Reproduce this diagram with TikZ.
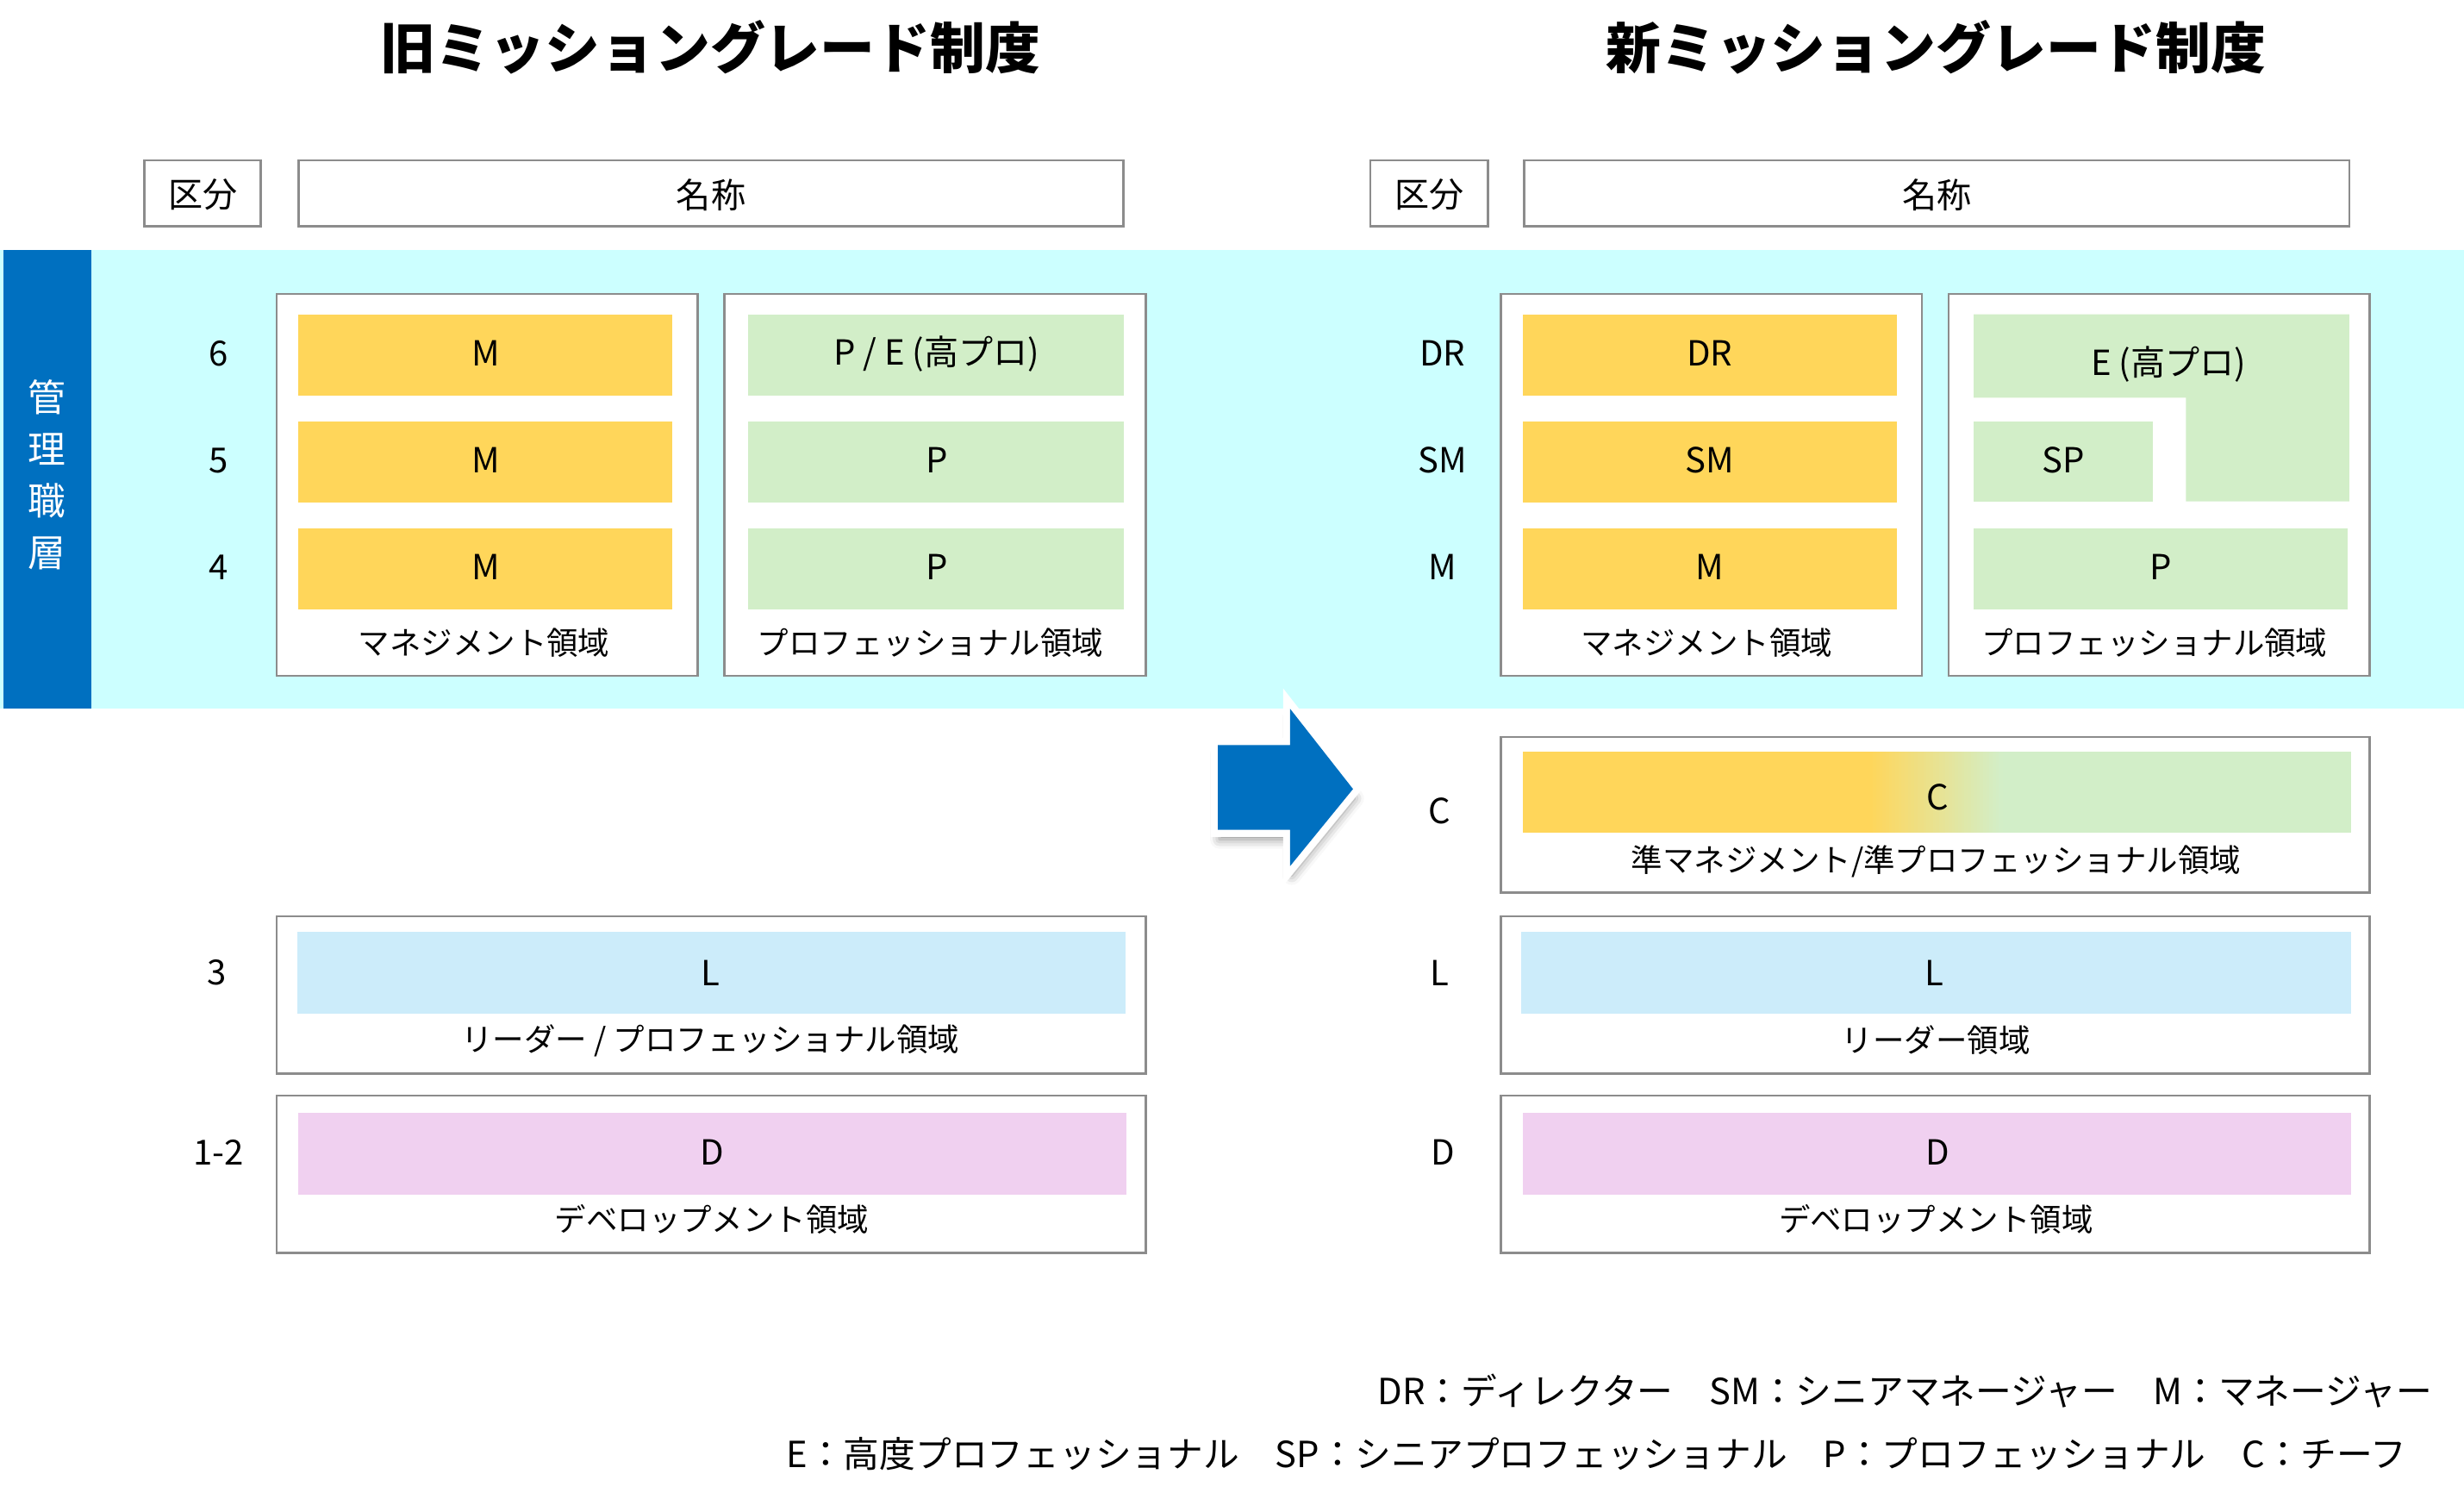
\documentclass[tikz,border=0pt]{standalone}
\usepackage{fontspec}
\setmainfont{Noto Sans CJK JP}
\usetikzlibrary{shadows.blur}
\definecolor{ylw}{RGB}{255,214,90}
\definecolor{grn}{RGB}{210,238,200}
\definecolor{lblue}{RGB}{204,236,250}
\definecolor{pnk}{RGB}{240,208,240}
\definecolor{band}{RGB}{204,255,255}
\definecolor{dblue}{RGB}{0,112,192}
\definecolor{bord}{RGB}{140,140,140}
\begin{document}
\begin{tikzpicture}[x=0.5pt,y=-0.5pt,
  boxx/.style={draw=bord,line width=0.7pt,fill=white},
  ttl/.style={font=\fontsize{17.5pt}{20pt}\selectfont\bfseries},
  hd/.style={font=\fontsize{11pt}{13pt}\selectfont,inner sep=0pt},
  bl/.style={font=\fontsize{11pt}{13pt}\selectfont,inner sep=0pt},
  al/.style={font=\fontsize{10pt}{12pt}\selectfont,inner sep=0pt},
  lg/.style={font=\fontsize{11.45pt}{13pt}\selectfont,inner sep=0pt}]
\useasboundingbox (0,0) rectangle (1568,953.7);
% titles
\node[ttl] (titleL) at (452,30) {旧ミッショングレード制度};
\node[ttl] (titleR) at (1232,30) {新ミッショングレード制度};
% headers
\draw[boxx] (92,102) rectangle (166,144);
\node[hd] (kbL) at (129,124) {区分};
\draw[boxx] (190,102) rectangle (715,144);
\node[hd] (mcL) at (452.5,124) {名称};
\draw[boxx] (872,102) rectangle (947,144);
\node[hd] (kbR) at (909.5,124) {区分};
\draw[boxx] (970,102) rectangle (1495,144);
\node[hd] (mcR) at (1232.5,124) {名称};
% band
\fill[band] (0,159) rectangle (1568,451);
\fill[dblue] (2,159) rectangle (58,451);
\node[font=\fontsize{12pt}{16.5pt}\selectfont,text=white,align=center,inner sep=0pt] (kanri) at (30,302) {管\\理\\職\\層};
% left grade labels
\node[bl] (gL6) at (139,225) {6};
\node[bl] (gL5) at (139,293) {5};
\node[bl] (gL4) at (139,361) {4};
\node[bl] (gL3) at (138,619) {3};
\node[bl] (gL12) at (139,733) {1-2};
% left management
\draw[boxx] (176,187) rectangle (444,430);
\fill[ylw] (190,200) rectangle (428,252);
\fill[ylw] (190,268) rectangle (428,320);
\fill[ylw] (190,336) rectangle (428,388);
\node[bl] (mL6) at (309,225) {M};
\node[bl] (mL5) at (309,293) {M};
\node[bl] (mL4) at (309,361) {M};
\node[al] (mgL) at (308,409) {マネジメント領域};
% left professional
\draw[boxx] (461,187) rectangle (729,430);
\fill[grn] (476,200) rectangle (715,252);
\fill[grn] (476,268) rectangle (715,320);
\fill[grn] (476,336) rectangle (715,388);
\node[bl] (pL6) at (596,225) {P / E (高プロ)};
\node[bl] (pL5) at (596,293) {P};
\node[bl] (pL4) at (596,361) {P};
\node[al] (prL) at (592,409) {プロフェッショナル領域};
% left L
\draw[boxx] (176,583) rectangle (729,683);
\fill[lblue] (189,593) rectangle (716,645);
\node[bl] (lL) at (452,619) {L};
\node[al] (ldL) at (452,662) {リーダー / プロフェッショナル領域};
% left D
\draw[boxx] (176,697) rectangle (729,797);
\fill[pnk] (190,708) rectangle (717,760);
\node[bl] (dL) at (453,733) {D};
\node[al] (dvL) at (453,776) {デベロップメント領域};
% arrow
\path[draw=white,fill=white,line width=4.5pt,line join=miter,
  blur shadow={shadow xshift=0.5pt,shadow yshift=-3pt,shadow blur radius=3pt,shadow opacity=45}]
  (775,474) -- (821,474) -- (821,451) -- (861,502) -- (821,551) -- (821,528) -- (775,528) -- cycle;
\fill[dblue] (775,474) -- (821,474) -- (821,451) -- (861,502) -- (821,551) -- (821,528) -- (775,528) -- cycle;
% right grade labels
\node[bl] (gR1) at (918,225) {DR};
\node[bl] (gR2) at (918,293) {SM};
\node[bl] (gR3) at (918,361) {M};
\node[bl] (gR4) at (916,516) {C};
\node[bl] (gR5) at (916,619) {L};
\node[bl] (gR6) at (918,733) {D};
% right management
\draw[boxx] (955,187) rectangle (1223,430);
\fill[ylw] (969,200) rectangle (1207,252);
\fill[ylw] (969,268) rectangle (1207,320);
\fill[ylw] (969,336) rectangle (1207,388);
\node[bl] (mR1) at (1088,225) {DR};
\node[bl] (mR2) at (1088,293) {SM};
\node[bl] (mR3) at (1088,361) {M};
\node[al] (mgR) at (1086,409) {マネジメント領域};
% right professional
\draw[boxx] (1240,187) rectangle (1508,430);
\fill[grn] (1256,200) -- (1495,200) -- (1495,319) -- (1391,319) -- (1391,253) -- (1256,253) -- cycle;
\fill[grn] (1256,268) rectangle (1370,319);
\fill[grn] (1256,336) rectangle (1494,388);
\node[bl] (eR) at (1380,232) {E (高プロ)};
\node[bl] (spR) at (1313,293) {SP};
\node[bl] (pR) at (1375,361) {P};
\node[al] (prR) at (1371,409) {プロフェッショナル領域};
% right C
\draw[boxx] (955,469) rectangle (1508,568);
\fill[ylw] (969,478) rectangle (1191,530);
\fill[grn] (1274,478) rectangle (1496,530);
\foreach \i in {0,...,41} {
  \pgfmathsetmacro{\pc}{100-(\i+0.5)*100/42}
  \fill[ylw!\pc!grn] ({1190+\i*2},478) rectangle ({1192.6+\i*2},530);
}
\node[bl] (cR) at (1233,507) {C};
\node[al] (cdR) at (1232,548) {準マネジメント/準プロフェッショナル領域};
% right L
\draw[boxx] (955,583) rectangle (1508,683);
\fill[lblue] (968,593) rectangle (1496,645);
\node[bl] (lR) at (1231,619) {L};
\node[al] (ldR) at (1232,662) {リーダー領域};
% right D
\draw[boxx] (955,697) rectangle (1508,797);
\fill[pnk] (969,708) rectangle (1496,760);
\node[bl] (dR) at (1233,733) {D};
\node[al] (dvR) at (1232,776) {デベロップメント領域};
% legend
\node[lg,anchor=east] (leg1) at (1548,885) {DR：ディレクター　SM：シニアマネージャー　M：マネージャー};
\node[lg] (leg2) at (1016,925) {E：高度プロフェッショナル　SP：シニアプロフェッショナル　P：プロフェッショナル　C：チーフ};
\end{tikzpicture}
\end{document}
